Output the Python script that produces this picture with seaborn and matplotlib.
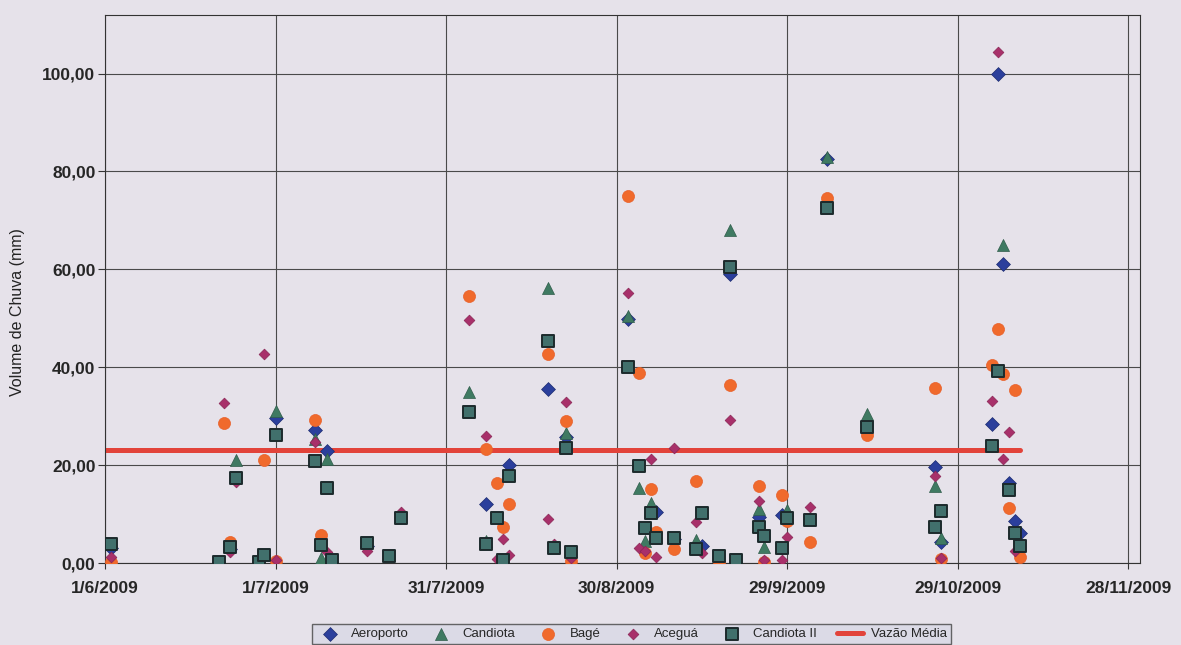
import numpy as np
import pandas as pd
import matplotlib
matplotlib.use("Agg")
import matplotlib.pyplot as plt
import matplotlib.dates as mdates
from matplotlib.ticker import FuncFormatter, MultipleLocator
import seaborn as sns

# ---------------- data ----------------
aeroporto_dates = ["2009-06-02", "2009-06-23", "2009-07-01", "2009-07-08", "2009-07-10", "2009-07-17",
                   "2009-08-07", "2009-08-11", "2009-08-18", "2009-08-21", "2009-09-01", "2009-09-06",
                   "2009-09-09", "2009-09-14", "2009-09-19", "2009-09-24", "2009-09-28", "2009-10-06",
                   "2009-10-25", "2009-10-26", "2009-11-04", "2009-11-05", "2009-11-06", "2009-11-07",
                   "2009-11-08", "2009-11-09"]
aeroporto_mm = [3.0, 2.8, 29.7, 27.1, 22.9, 3.5,
                12.1, 20.0, 35.5, 25.7, 49.8, 10.4,
                5.0, 3.5, 59.0, 9.5, 9.9, 82.5,
                19.6, 4.3, 28.5, 100.0, 61.0, 16.3,
                8.6, 6.1]

candiota_dates = ["2009-06-24", "2009-07-01", "2009-07-08", "2009-07-09", "2009-07-10", "2009-08-04",
                  "2009-08-07", "2009-08-18", "2009-08-21", "2009-09-01", "2009-09-03", "2009-09-04",
                  "2009-09-05", "2009-09-13", "2009-09-19", "2009-09-24", "2009-09-25", "2009-09-29",
                  "2009-10-06", "2009-10-13", "2009-10-25", "2009-10-26", "2009-11-06"]
candiota_mm = [21.0, 31.0, 25.3, 1.1, 21.2, 34.9,
               4.5, 56.1, 26.5, 50.5, 15.3, 4.5,
               12.2, 4.8, 68.0, 11.0, 3.3, 10.9,
               83.0, 30.4, 15.7, 5.1, 65.0]

bage_dates = ["2009-06-02", "2009-06-22", "2009-06-23", "2009-06-29", "2009-07-01", "2009-07-08",
              "2009-07-09", "2009-08-04", "2009-08-07", "2009-08-09", "2009-08-10", "2009-08-11",
              "2009-08-18", "2009-08-21", "2009-08-22", "2009-09-01", "2009-09-03", "2009-09-04",
              "2009-09-05", "2009-09-06", "2009-09-09", "2009-09-13", "2009-09-17", "2009-09-19",
              "2009-09-24", "2009-09-25", "2009-09-28", "2009-09-29", "2009-10-03", "2009-10-06",
              "2009-10-13", "2009-10-25", "2009-10-26", "2009-11-04", "2009-11-05", "2009-11-06",
              "2009-11-07", "2009-11-08", "2009-11-09"]
bage_mm = [0.3, 28.7, 4.3, 21.0, 0.5, 29.2,
           5.8, 54.6, 23.3, 16.4, 7.3, 12.0,
           42.8, 29.0, 0.5, 75.0, 38.9, 2.0,
           15.1, 6.3, 2.9, 16.7, 0.2, 36.3,
           15.8, 0.2, 14.0, 8.5, 4.3, 74.5,
           26.1, 35.7, 0.8, 40.5, 47.8, 38.6,
           11.2, 35.3, 1.2]

acegua_dates = ["2009-06-02", "2009-06-22", "2009-06-23", "2009-06-24", "2009-06-29", "2009-07-01",
                "2009-07-08", "2009-07-10", "2009-07-17", "2009-07-23", "2009-08-04", "2009-08-07",
                "2009-08-09", "2009-08-10", "2009-08-11", "2009-08-18", "2009-08-19", "2009-08-21",
                "2009-08-22", "2009-09-01", "2009-09-03", "2009-09-04", "2009-09-05", "2009-09-06",
                "2009-09-09", "2009-09-13", "2009-09-14", "2009-09-19", "2009-09-24", "2009-09-25",
                "2009-09-28", "2009-09-29", "2009-10-03", "2009-10-25", "2009-10-26", "2009-11-04",
                "2009-11-05", "2009-11-06", "2009-11-07", "2009-11-08"]
acegua_mm = [1.3, 32.7, 2.2, 16.5, 42.8, 0.7,
             24.8, 2.2, 2.4, 10.5, 49.6, 26.0,
             0.8, 4.9, 1.7, 9.0, 3.8, 33.0,
             1.0, 55.2, 3.0, 2.5, 21.2, 1.2,
             23.5, 8.4, 2.1, 29.2, 12.6, 0.7,
             0.6, 5.3, 11.5, 17.8, 1.0, 33.2,
             104.5, 21.2, 26.7, 2.4]

candiota2_dates = ["2009-06-02", "2009-06-21", "2009-06-23", "2009-06-24", "2009-06-28", "2009-06-29",
                   "2009-07-01", "2009-07-08", "2009-07-09", "2009-07-10", "2009-07-11", "2009-07-17",
                   "2009-07-21", "2009-07-23", "2009-08-04", "2009-08-07", "2009-08-09", "2009-08-10",
                   "2009-08-11", "2009-08-18", "2009-08-19", "2009-08-21", "2009-08-22", "2009-09-01",
                   "2009-09-03", "2009-09-04", "2009-09-05", "2009-09-06", "2009-09-09", "2009-09-13",
                   "2009-09-14", "2009-09-17", "2009-09-19", "2009-09-20", "2009-09-24", "2009-09-25",
                   "2009-09-28", "2009-09-29", "2009-10-03", "2009-10-06", "2009-10-13", "2009-10-25",
                   "2009-10-26", "2009-11-04", "2009-11-05", "2009-11-07", "2009-11-08", "2009-11-09"]
candiota2_mm = [3.9, 0.2, 3.3, 17.4, 0.2, 1.7,
                26.1, 20.9, 3.6, 15.3, 0.7, 4.1,
                1.4, 9.2, 30.8, 4.0, 9.2, 0.7,
                17.8, 45.3, 3.1, 23.6, 2.2, 40.0,
                19.8, 7.2, 10.3, 5.2, 5.2, 2.9,
                10.3, 1.5, 60.5, 0.6, 7.4, 5.6,
                3.1, 9.3, 8.9, 72.5, 27.8, 7.3,
                10.6, 23.9, 39.2, 14.9, 6.1, 3.5]

vazao_dates = ["2009-06-01", "2009-11-09"]
vazao_mm = [23.0, 23.0]

x_ticks = ["2009-06-01", "2009-07-01", "2009-07-31", "2009-08-30", "2009-09-29", "2009-10-29", "2009-11-28"]
y_ticks = [0, 20, 40, 60, 80, 100]

# ---------------- build tables ----------------
series = [
    ("Aeroporto", aeroporto_dates, aeroporto_mm),
    ("Candiota", candiota_dates, candiota_mm),
    ("Bagé", bage_dates, bage_mm),
    ("Aceguá", acegua_dates, acegua_mm),
    ("Candiota II", candiota2_dates, candiota2_mm),
]
frames = []
for name, d, v in series:
    frames.append(pd.DataFrame({"data": pd.to_datetime(d), "mm": v, "estacao": name}))
df = pd.concat(frames, ignore_index=True)
vazao = pd.DataFrame({"data": pd.to_datetime(vazao_dates), "mm": vazao_mm})

styles = {
    "Aeroporto":   dict(marker="D", color="#2b3f9c", s=50, edgecolor="#1e2c70", linewidth=0.5),
    "Candiota":    dict(marker="^", color="#3f7a62", s=75, edgecolor="#2f5c4a", linewidth=0.5),
    "Bagé":        dict(marker="o", color="#f06a2c", s=75, edgecolor="#e8602a", linewidth=0.5),
    "Aceguá":      dict(marker="D", color="#a8306a", s=30, edgecolor="#8a2455", linewidth=0.5),
    "Candiota II": dict(marker="s", color="#41706c", s=80, edgecolor="#1c2a2c", linewidth=1.4),
}

bg = "#e6e2ea"
sns.set_theme(style="white")
plt.rcParams["font.family"] = ["Liberation Sans", "DejaVu Sans"]

fig = plt.figure(figsize=(11.81, 6.45), dpi=100, facecolor=bg)
ax = fig.add_axes([0.089, 0.127, 0.876, 0.850])
ax.set_facecolor(bg)

for name, _, _ in series:
    st = styles[name]
    sns.scatterplot(data=df[df["estacao"] == name], x="data", y="mm", ax=ax,
                    marker=st["marker"], color=st["color"], s=st["s"],
                    edgecolor=st["edgecolor"], linewidth=st["linewidth"],
                    label=name, zorder=3)

sns.lineplot(data=vazao, x="data", y="mm", ax=ax, color="#e2433a", linewidth=3.6,
             label="Vazão Média", zorder=2)

ax.set_xlim(pd.Timestamp("2009-06-01"), pd.Timestamp("2009-11-30"))
ax.set_ylim(0, 112)

xt = pd.to_datetime(x_ticks)
ax.set_xticks(xt)
ax.set_xticklabels([f"{t.day}/{t.month}/{t.year}" for t in xt], fontsize=12.5, fontweight="bold")
ax.set_yticks(y_ticks)
ax.yaxis.set_major_formatter(FuncFormatter(lambda v, p: f"{v:.2f}".replace(".", ",")))
for lab in ax.get_yticklabels():
    lab.set_fontweight("bold")
    lab.set_fontsize(12.5)

ax.grid(True, color="#4a4a4a", linewidth=0.8)
ax.set_axisbelow(True)
for sp in ax.spines.values():
    sp.set_color("#333333")
    sp.set_linewidth(0.8)
ax.tick_params(axis="y", which="major", direction="out", length=5, width=0.8,
               color="#333333", pad=2, left=True)
ax.tick_params(axis="x", which="major", direction="out", length=4, width=0.8,
               color="#333333", pad=9, bottom=True)

ax.set_xlabel("")
ax.set_ylabel("")
fig.text(18 / 1181, 1 - 312 / 645, "Volume de Chuva (mm)", rotation=90, fontsize=11.5,
         ha="center", va="center", color="#222222")

ax.legend(ncol=6, loc="center", bbox_to_anchor=(0.535, 0.017), bbox_transform=fig.transFigure,
          fontsize=9.5, frameon=True, facecolor="#d9d9e6", edgecolor="#444444", fancybox=False,
          handletextpad=0.6, columnspacing=1.5, borderpad=0.3, handlelength=2.0)

fig.savefig("out.png", dpi=100, facecolor=bg)
